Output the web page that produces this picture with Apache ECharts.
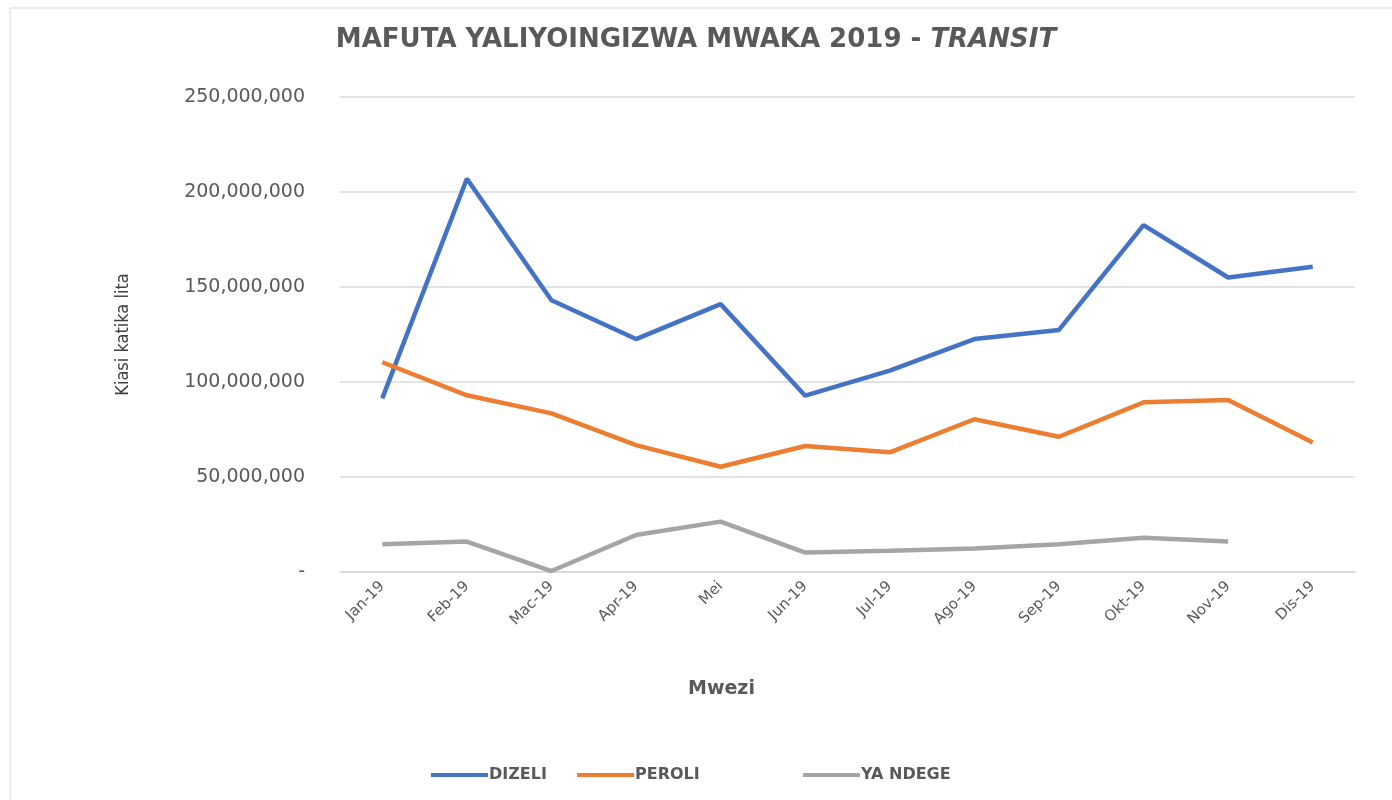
<!DOCTYPE html>
<html>
<head>
  <meta charset="utf-8">
  <title>ECharts</title>
  <script src="https://cdn.jsdelivr.net/npm/echarts@6/dist/echarts.min.js"></script>
  <style>
    html, body { margin: 0; padding: 0; background: #fff; }
  </style>
</head>
<body>
<div id="main" style="width: 1392px;height:800px;"></div>
<script type="text/javascript">
  // miezi
  var months = ['Jan-19', 'Feb-19', 'Mac-19', 'Apr-19', 'Mei', 'Jun-19', 'Jul-19', 'Ago-19', 'Sep-19', 'Okt-19', 'Nov-19', 'Dis-19'];
  // lita (makadirio kutoka kwenye picha)
  var dizeli = [91400000, 207000000, 143000000, 122600000, 141000000, 92800000, 106000000, 122600000, 127400000, 182600000, 155000000, 160700000];
  var peroli = [110400000, 93000000, 83500000, 66800000, 55400000, 66300000, 63000000, 80400000, 71200000, 89300000, 90500000, 68200000];
  var yaNdege = [14600000, 16000000, 500000, 19500000, 26500000, 10200000, 11200000, 12400000, 14600000, 18000000, 16000000, null];

  var myChart = echarts.init(document.getElementById('main'));

  function fmt(v) {
    if (v === 0) return '-';
    return v.toString().replace(/\B(?=(\d{3})+(?!\d))/g, ',');
  }

  var legendText = { fontFamily: 'DejaVu Sans', fontWeight: 'bold', fontSize: 16, color: '#595959', padding: [0, 0, 0, -4] };
  function legendAt(x, name) {
    return {
      top: 762,
      left: x,
      itemWidth: 57,
      itemHeight: 4,
      icon: 'rect',
      textStyle: legendText,
      data: [name]
    };
  }

  var option = {
    backgroundColor: '#fff',
    animation: false,
    title: {
      text: '{b|MAFUTA YALIYOINGIZWA MWAKA 2019 - }{i|TRANSIT}',
      left: 'center',
      top: 22,
      textStyle: {
        rich: {
          b: { fontFamily: 'DejaVu Sans', fontWeight: 'bold', fontSize: 26, color: '#595959' },
          i: { fontFamily: 'DejaVu Sans', fontWeight: 'bold', fontStyle: 'italic', fontSize: 26, color: '#595959' }
        }
      }
    },
    legend: [
      legendAt(426, 'DIZELI'),
      legendAt(572, 'PEROLI'),
      legendAt(798, 'YA NDEGE')
    ],
    grid: {
      left: 340,
      right: 37,
      top: 97,
      bottom: 228
    },
    graphic: [
      {
        type: 'rect',
        shape: { x: 10, y: 8, width: 1400, height: 820 },
        style: { fill: 'none', stroke: '#d9d9d9', lineWidth: 1 }
      },
      {
        type: 'text',
        left: 688,
        top: 680,
        style: { text: 'Mwezi', fontFamily: 'DejaVu Sans', fontWeight: 'bold', fontSize: 19, fill: '#595959' }
      }
    ],
    xAxis: {
      type: 'category',
      boundaryGap: true,
      data: months,
      axisLine: { lineStyle: { color: '#d9d9d9', width: 1.5 } },
      axisTick: { show: false },
      axisLabel: { rotate: 45, margin: 12, fontFamily: 'DejaVu Sans', fontSize: 15, color: '#595959' }
    },
    yAxis: {
      type: 'value',
      min: 0,
      max: 250000000,
      interval: 50000000,
      name: 'Kiasi katika lita',
      nameLocation: 'middle',
      nameRotate: 90,
      nameGap: 208,
      nameTextStyle: { fontFamily: "'DejaVu Sans Condensed', 'Roboto', sans-serif", fontSize: 18, color: '#404040' },
      axisLine: { show: false },
      axisTick: { show: false },
      axisLabel: { margin: 35, fontFamily: 'DejaVu Sans', fontSize: 19, color: '#595959', formatter: fmt },
      splitLine: { lineStyle: { color: '#d9d9d9', width: 1.5 } }
    },
    series: [
      {
        name: 'DIZELI',
        type: 'line',
        data: dizeli,
        symbol: 'none',
        itemStyle: { color: '#4472C4' },
        lineStyle: { color: '#4472C4', width: 4.5 }
      },
      {
        name: 'PEROLI',
        type: 'line',
        data: peroli,
        symbol: 'none',
        itemStyle: { color: '#ED7D31' },
        lineStyle: { color: '#ED7D31', width: 4.5 }
      },
      {
        name: 'YA NDEGE',
        type: 'line',
        data: yaNdege,
        symbol: 'none',
        itemStyle: { color: '#A5A5A5' },
        lineStyle: { color: '#A5A5A5', width: 4.5 }
      }
    ]
  };

  myChart.setOption(option);
</script>
</body>
</html>
